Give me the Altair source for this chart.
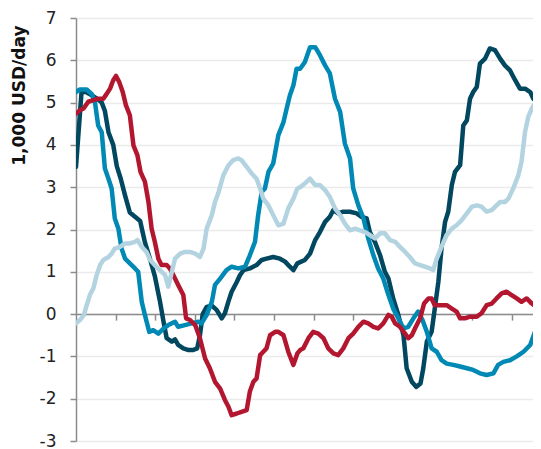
import altair as alt
import pandas as pd

# time in years from the start of the series; values in 1,000 USD/day
navy_t = [0.00, 0.14, 0.25, 0.40, 0.52, 0.65, 0.73, 0.82, 0.88, 0.94, 1.03, 1.13, 1.24, 1.36, 1.49, 1.62, 1.74, 1.87, 1.99, 2.12, 2.21, 2.29, 2.42, 2.50, 2.58, 2.71, 2.84, 2.96, 3.06, 3.13, 3.20, 3.30, 3.43, 3.55, 3.68, 3.76, 3.85, 3.93, 4.06, 4.14, 4.23, 4.39, 4.56, 4.69, 4.81, 4.98, 5.15, 5.28, 5.40, 5.49, 5.59, 5.78, 5.91, 6.04, 6.16, 6.29, 6.41, 6.50, 6.62, 6.75, 6.92, 7.09, 7.21, 7.34, 7.42, 7.55, 7.68, 7.80, 7.89, 8.01, 8.14, 8.27, 8.35, 8.48, 8.59, 8.70, 8.77, 8.86, 8.98, 9.06, 9.15, 9.23, 9.32, 9.40, 9.49, 9.57, 9.70, 9.78, 9.87, 9.95, 10.03, 10.12, 10.20, 10.33, 10.45, 10.58, 10.71, 10.83, 10.96, 11.09, 11.21, 11.34, 11.47, 11.55, 11.63]
navy_v = [3.48, 5.25, 5.25, 5.17, 5.10, 5.00, 4.80, 4.30, 4.15, 4.00, 3.50, 3.20, 2.80, 2.40, 2.30, 2.20, 1.70, 1.30, 0.90, 0.30, -0.18, -0.57, -0.65, -0.60, -0.73, -0.81, -0.85, -0.85, -0.81, -0.50, 0.00, 0.17, 0.20, 0.10, -0.10, 0.02, 0.30, 0.53, 0.76, 0.92, 1.04, 1.08, 1.16, 1.28, 1.31, 1.35, 1.31, 1.24, 1.12, 1.04, 1.20, 1.28, 1.43, 1.75, 1.94, 2.18, 2.30, 2.46, 2.38, 2.42, 2.42, 2.38, 2.30, 2.26, 1.94, 1.70, 1.39, 1.00, 0.84, 0.37, -0.02, -0.50, -1.28, -1.60, -1.72, -1.64, -1.28, -0.65, -0.42, 0.13, 0.76, 1.55, 2.18, 2.42, 3.05, 3.36, 3.52, 4.46, 4.58, 5.09, 5.25, 5.37, 5.92, 6.04, 6.28, 6.24, 6.04, 5.88, 5.76, 5.53, 5.33, 5.33, 5.25, 5.09, 5.21]

mid_t = [0.00, 0.10, 0.27, 0.40, 0.48, 0.56, 0.65, 0.73, 0.82, 0.90, 0.98, 1.07, 1.15, 1.24, 1.36, 1.49, 1.57, 1.66, 1.74, 1.85, 1.95, 2.08, 2.21, 2.33, 2.50, 2.58, 2.75, 2.92, 3.09, 3.17, 3.30, 3.43, 3.51, 3.64, 3.80, 3.93, 4.10, 4.27, 4.39, 4.52, 4.60, 4.69, 4.77, 4.86, 4.98, 5.11, 5.24, 5.32, 5.40, 5.49, 5.57, 5.66, 5.78, 5.91, 6.04, 6.16, 6.29, 6.41, 6.54, 6.67, 6.79, 6.92, 7.00, 7.13, 7.26, 7.38, 7.51, 7.63, 7.76, 7.89, 8.01, 8.14, 8.27, 8.39, 8.52, 8.64, 8.75, 8.86, 8.98, 9.11, 9.23, 9.36, 9.53, 9.70, 9.87, 10.03, 10.20, 10.37, 10.54, 10.66, 10.79, 10.96, 11.13, 11.30, 11.47, 11.59, 11.68, 11.74]
mid_v = [5.25, 5.31, 5.31, 5.20, 5.00, 4.46, 4.30, 3.44, 3.20, 2.97, 2.26, 2.02, 1.55, 1.31, 1.20, 1.08, 1.00, 0.29, -0.02, -0.42, -0.38, -0.46, -0.34, -0.26, -0.18, -0.30, -0.26, -0.22, -0.18, -0.22, -0.02, 0.29, 0.69, 0.84, 1.04, 1.12, 1.08, 1.12, 1.39, 1.71, 2.34, 2.89, 2.97, 3.36, 3.56, 4.23, 4.54, 4.86, 5.17, 5.41, 5.80, 5.80, 5.96, 6.31, 6.31, 6.12, 5.88, 5.69, 5.09, 4.78, 4.03, 3.68, 2.97, 2.57, 2.26, 1.79, 1.39, 1.08, 0.84, 0.45, 0.13, -0.10, -0.34, -0.30, -0.10, 0.06, -0.14, -0.42, -0.81, -0.89, -1.09, -1.17, -1.20, -1.24, -1.28, -1.32, -1.40, -1.44, -1.40, -1.20, -1.13, -1.09, -1.00, -0.89, -0.73, -0.42, -0.30, -0.26]

red_t = [0.00, 0.10, 0.19, 0.31, 0.44, 0.56, 0.69, 0.77, 0.86, 0.94, 1.01, 1.09, 1.18, 1.26, 1.36, 1.45, 1.55, 1.63, 1.74, 1.83, 1.91, 1.99, 2.08, 2.16, 2.29, 2.37, 2.46, 2.58, 2.71, 2.78, 2.88, 3.01, 3.13, 3.26, 3.38, 3.51, 3.64, 3.76, 3.85, 3.93, 4.06, 4.18, 4.31, 4.39, 4.48, 4.56, 4.65, 4.73, 4.81, 4.90, 5.03, 5.11, 5.24, 5.36, 5.49, 5.59, 5.66, 5.74, 5.87, 5.99, 6.12, 6.25, 6.37, 6.50, 6.62, 6.75, 6.88, 7.00, 7.13, 7.26, 7.38, 7.51, 7.63, 7.76, 7.89, 7.97, 8.06, 8.18, 8.31, 8.39, 8.48, 8.56, 8.69, 8.79, 8.90, 8.98, 9.06, 9.19, 9.36, 9.49, 9.61, 9.70, 9.82, 9.95, 10.12, 10.24, 10.37, 10.50, 10.62, 10.75, 10.87, 11.00, 11.13, 11.25, 11.38, 11.51, 11.63, 11.74]
red_v = [4.74, 4.82, 4.86, 5.02, 5.06, 5.09, 5.09, 5.20, 5.33, 5.53, 5.63, 5.49, 5.25, 4.94, 4.70, 3.99, 3.76, 3.36, 3.13, 2.65, 2.02, 1.71, 1.31, 1.16, 1.16, 1.08, 0.92, 0.69, 0.45, -0.10, -0.14, -0.26, -0.57, -1.05, -1.28, -1.60, -1.76, -2.03, -2.19, -2.39, -2.35, -2.31, -2.27, -1.83, -1.60, -1.52, -0.97, -0.89, -0.81, -0.50, -0.42, -0.42, -0.50, -0.89, -1.20, -0.93, -0.85, -0.81, -0.57, -0.42, -0.46, -0.57, -0.81, -0.93, -0.97, -0.81, -0.57, -0.46, -0.30, -0.18, -0.22, -0.30, -0.34, -0.22, -0.02, -0.06, -0.22, -0.30, -0.46, -0.57, -0.50, -0.34, -0.10, 0.25, 0.37, 0.37, 0.21, 0.21, 0.21, 0.13, 0.06, -0.10, -0.10, -0.06, -0.06, 0.02, 0.21, 0.25, 0.37, 0.49, 0.53, 0.45, 0.37, 0.29, 0.37, 0.25, 0.17, 0.25]

light_t = [0.00, 0.10, 0.20, 0.27, 0.35, 0.44, 0.52, 0.61, 0.69, 0.82, 0.90, 0.98, 1.11, 1.24, 1.36, 1.49, 1.55, 1.66, 1.78, 1.87, 1.99, 2.12, 2.25, 2.33, 2.42, 2.50, 2.63, 2.75, 2.88, 3.01, 3.13, 3.22, 3.30, 3.43, 3.51, 3.59, 3.72, 3.85, 3.97, 4.10, 4.18, 4.31, 4.44, 4.56, 4.65, 4.73, 4.86, 4.98, 5.11, 5.24, 5.36, 5.49, 5.59, 5.66, 5.78, 5.91, 6.04, 6.16, 6.29, 6.41, 6.54, 6.67, 6.79, 6.92, 7.05, 7.17, 7.30, 7.42, 7.55, 7.68, 7.80, 7.93, 8.06, 8.18, 8.31, 8.43, 8.56, 8.69, 8.81, 8.94, 9.02, 9.11, 9.23, 9.36, 9.49, 9.61, 9.74, 9.87, 10.00, 10.12, 10.24, 10.37, 10.50, 10.62, 10.71, 10.83, 10.92, 11.04, 11.17, 11.25, 11.34, 11.42, 11.51, 11.59, 11.68, 11.74]
light_v = [-0.22, -0.14, -0.02, 0.21, 0.45, 0.61, 0.92, 1.16, 1.28, 1.35, 1.43, 1.55, 1.59, 1.67, 1.67, 1.71, 1.75, 1.59, 1.47, 1.28, 1.16, 1.04, 0.92, 0.65, 1.00, 1.31, 1.43, 1.47, 1.47, 1.43, 1.35, 1.55, 2.02, 2.34, 2.65, 2.85, 3.28, 3.52, 3.64, 3.68, 3.64, 3.48, 3.32, 3.20, 2.97, 2.73, 2.57, 2.34, 2.10, 2.14, 2.50, 2.73, 2.97, 3.00, 3.09, 3.20, 3.05, 3.05, 2.93, 2.77, 2.50, 2.34, 2.14, 1.98, 2.02, 1.98, 1.94, 1.87, 1.79, 1.91, 1.91, 1.75, 1.71, 1.59, 1.47, 1.35, 1.20, 1.16, 1.12, 1.08, 1.04, 1.31, 1.59, 1.87, 2.02, 2.10, 2.22, 2.38, 2.54, 2.57, 2.54, 2.42, 2.46, 2.57, 2.65, 2.65, 2.73, 2.97, 3.28, 3.60, 4.31, 4.66, 4.86, 4.98, 4.86, 4.74]

x_ticks = [1, 2, 3, 4, 5, 6, 7, 8, 9, 10, 11]
y_ticks = [-3, -2, -1, 0, 1, 2, 3, 4, 5, 6, 7]

series = [
    (navy_t, navy_v, "#00475f"),
    (mid_t, mid_v, "#0089b4"),
    (red_t, red_v, "#b3172f"),
    (light_t, light_v, "#b3d3e0"),
]

W, H = 457, 423
PX_PER_YEAR = 39.6
zero_from_bottom = H * 3 / 10.0

xs = alt.Scale(domain=[0, W / PX_PER_YEAR], nice=False, zero=False)
ys = alt.Scale(domain=[-3, 7], nice=False, zero=False)

x_axis = alt.Axis(values=x_ticks, labels=False, grid=False,
                  offset=-zero_from_bottom, domainColor="#8c8c8c",
                  domainWidth=1.5, tickColor="#8c8c8c", tickWidth=1.5,
                  tickSize=6)
y_axis = alt.Axis(values=y_ticks, grid=True, gridColor="#ebebeb",
                  gridWidth=1.5, domainColor="#8c8c8c", domainWidth=1.5,
                  tickColor="#8c8c8c", tickWidth=1.5, tickSize=6,
                  labelExpr="datum.value + ''",
                  labelFont="DejaVu Sans", labelFontSize=17,
                  labelColor="#222222", labelPadding=14,
                  titleFont="DejaVu Sans", titleFontSize=17,
                  titleFontWeight="bold", titleColor="#111111",
                  titleAnchor="end", titleX=-57, titleY=7,
                  titleBaseline="middle", titleAlign="right")

layers = []
for t, v, col in series:
    df = pd.DataFrame({"t": t, "v": v})
    layers.append(
        alt.Chart(df).mark_line(color=col, strokeWidth=4.5, strokeCap="round",
                                strokeJoin="round", clip=True)
        .encode(x=alt.X("t:Q", scale=xs, title=None, axis=x_axis),
                y=alt.Y("v:Q", scale=ys, title="1,000 USD/day", axis=y_axis))
    )

chart = alt.layer(*layers).properties(
    width=W, height=H,
    autosize=alt.AutoSizeParams(type="none"),
    padding={"left": 68, "top": 10, "right": 0, "bottom": 10},
).configure_view(stroke=None)

chart.save("out.html", embed_options={"renderer": "svg", "actions": False})
